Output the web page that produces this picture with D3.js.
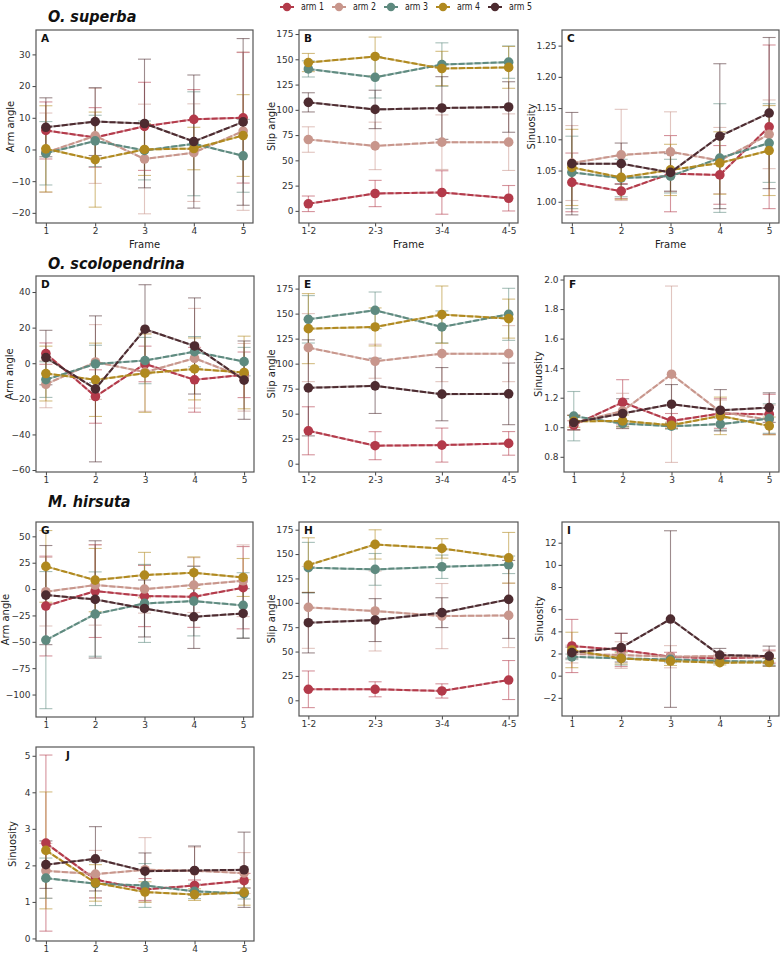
<!DOCTYPE html>
<html><head><meta charset="utf-8">
<script src="https://cdn.jsdelivr.net/npm/d3@7"></script>
<style>
body{margin:0;background:#fff;}
svg{display:block;}
.tick text{font-family:"DejaVu Sans",sans-serif;font-size:9px;fill:#333;}
.tick line{stroke:#444;}
.cond{font-family:"Liberation Sans Narrow","DejaVu Sans Condensed","Arial Narrow",sans-serif;font-stretch:condensed;}
</style></head><body>
<svg id="c" width="783" height="955"></svg>
<script>
const arms = ["arm 1","arm 2","arm 3","arm 4","arm 5"];
const armColors = ["#b33a4a","#c8968c","#5e8a7f","#b0891f","#4d2b30"];
const frames = [1,2,3,4,5];
const pairs = ["1-2","2-3","3-4","4-5"];
const titles = ["O. superba","O. scolopendrina","M. hirsuta"];

// A: O. superba arm angle (mean, sd) rows = arm 1..5
const aMean = [[6.0,3.8,7.3,9.5,10.0],[-1.0,4.3,-3.0,-1.0,5.8],[-1.2,2.7,-0.3,1.8,-2.0],[0.2,-3.2,0.0,0.3,4.4],[7.0,8.8,8.2,2.5,8.7]];
const aSd   = [[9,9.4,13.9,9.4,20.6],[12.5,15,17.3,15.4,25],[10,8.1,9.3,16.4,11.5],[13.6,15,8.2,6.7,12.9],[9.3,10.7,20.3,21,26.3]];
// B: O. superba slip angle
const bMean = [[7.0,17.2,18.2,12.5],[70.6,64.3,68.0,68.0],[140.5,132.2,144.8,147.2],[146.8,152.8,140.9,142.0],[107.4,100.4,101.8,102.8]];
const bSd   = [[7.7,13,21.5,12.6],[12.6,23.5,27,28],[8,20.5,21.5,16],[9,19.2,17,20.7],[9.5,19,31,25]];
// C: O. superba sinuosity
const cMean = [[1.031,1.017,1.045,1.043,1.120],[1.062,1.075,1.080,1.066,1.108],[1.047,1.038,1.041,1.070,1.094],[1.055,1.039,1.051,1.062,1.082],[1.061,1.061,1.047,1.105,1.142]];
const cSd   = [[0.047,0.012,0.061,0.047,0.131],[0.060,0.073,0.064,0.053,0.055],[0.058,0.030,0.027,0.087,0.063],[0.061,0.035,0.041,0.050,0.072],[0.082,0.033,0.030,0.116,0.121]];
// D: O. scolopendrina arm angle
const dMean = [[5.4,-18.7,-0.4,-9.3,-6.5],[-11.8,0.7,-5.0,2.8,-7.9],[-9.2,-0.4,1.5,6.5,0.9],[-5.8,-9.3,-5.6,-3.2,-5.2],[3.2,-14.4,19.1,9.7,-9.5]];
const dSd   = [[6,15,10,18.2,12.8],[13.2,21,22,28,19],[10,10.5,13,8.5,8],[15.4,20.6,22,17.4,20.4],[15.3,41,25,27,22]];
// E: O. scolopendrina slip angle
const eMean = [[32.9,18.0,18.6,20.3],[116,102.4,110,110],[144.3,153.3,136.7,149.3],[135,136.7,149,145],[75.8,77.8,69.5,69.8]];
const eSd   = [[24,14,17,11.8],[34,17,28,28],[23.7,18.3,16,26],[35,19,28.6,19.5],[48,27.6,26.6,30.8]];
// F: O. scolopendrina sinuosity
const fMean = [[1.014,1.169,1.043,1.093,1.088],[1.030,1.110,1.359,1.104,1.050],[1.075,1.025,1.007,1.021,1.059],[1.040,1.043,1.014,1.077,1.009],[1.032,1.093,1.156,1.115,1.133]];
const fSd   = [[0.03,0.153,0.05,0.1,0.135],[0.05,0.12,0.597,0.08,0.1],[0.167,0.02,0.02,0.04,0.1],[0.04,0.04,0.02,0.127,0.06],[0.05,0.1,0.133,0.14,0.1]];
// G: M. hirsuta arm angle
const gMean = [[-16.1,-1.9,-6.6,-7.3,1.3],[-2.5,3.8,0.0,3.8,7.9],[-48.4,-23.7,-13.6,-11.4,-15.5],[21.5,8.5,13.3,15.5,11.0],[-5.7,-9.8,-18.4,-26.3,-23.1]];
const gSd   = [[47.3,44,29,29,39],[32.5,38,22.8,26,34],[65,40,37,33,31],[34,30,21.5,15,18],[47,55.6,27,30,23.5]];
// H: M. hirsuta slip angle
const hMean = [[11.3,11.3,9.6,20.8],[95.3,91.6,86.4,87.1],[136,134.3,137,139],[138.7,159.9,155.8,146.2],[79.6,82.3,89.9,103.5]];
const hSd   = [[18.8,7.7,7.3,20],[42,41,33.4,33],[26,16.3,12,9],[28,15,10,26],[31,22,15.3,40]];
// I: M. hirsuta sinuosity
const iMean = [[2.68,2.32,1.71,1.56,1.71],[1.95,1.86,1.71,1.77,1.71],[1.70,1.56,1.47,1.32,1.26],[2.32,1.56,1.32,1.17,1.20],[2.08,2.53,5.11,1.86,1.77]];
const iSd   = [[2.4,1.5,0.4,0.3,0.6],[0.8,1.2,1.0,0.3,0.5],[0.25,0.6,0.3,0.2,0.3],[1.6,0.5,0.4,0.2,0.35],[0.5,1.3,7.97,0.6,0.9]];
// J: sinuosity
const jMean = [[2.61,1.61,1.34,1.45,1.58],[1.85,1.76,1.88,1.85,1.79],[1.65,1.50,1.45,1.29,1.23],[2.41,1.52,1.27,1.20,1.26],[2.02,2.18,1.84,1.86,1.88]];
const jSd   = [[2.41,0.5,0.3,0.15,0.2],[0.75,0.65,0.88,0.65,0.56],[0.55,0.6,0.6,0.2,0.15],[1.6,0.5,0.28,0.16,0.35],[0.65,0.88,0.5,0.67,1.03]];

const yTicksArm1 = [-20,-10,0,10,20,30];
const yTicksSlip = [0,25,50,75,100,125,150,175];
const yTicksSinC = [1.00,1.05,1.10,1.15,1.20,1.25];
const yTicksArm2 = [-60,-40,-20,0,20,40];
const yTicksSinF = [0.8,1.0,1.2,1.4,1.6,1.8,2.0];
const yTicksArm3 = [-100,-75,-50,-25,0,25,50];
const yTicksSinI = [-2,0,2,4,6,8,10,12];
const yTicksSinJ = [0,1,2,3,4,5];

const svg = d3.select("#c");

const panels = [
 {L:"A",x0:36,x1:253,y0:30,y1:223,yd:[-23.2,37.7],ticks:yTicksArm1,fmt:"d",m:aMean,s:aSd,yl:"Arm angle",ylx:11,xl:true},
 {L:"B",x0:299,x1:518,y0:30,y1:223,yd:[-12,179],ticks:yTicksSlip,fmt:"d",m:bMean,s:bSd,yl:"Slip angle",ylx:272,xl:true,cats:pairs},
 {L:"C",x0:562,x1:779,y0:30,y1:223,yd:[0.966,1.275],ticks:yTicksSinC,fmt:".2f",m:cMean,s:cSd,yl:"Sinuosity",ylx:532,xl:true},
 {L:"D",x0:36,x1:254,y0:276,y1:472,yd:[-61.1,49],ticks:yTicksArm2,fmt:"d",m:dMean,s:dSd,yl:"Arm angle",ylx:10},
 {L:"E",x0:299,x1:518,y0:276,y1:472,yd:[-8.3,187.6],ticks:yTicksSlip,fmt:"d",m:eMean,s:eSd,yl:"Slip angle",ylx:272,cats:pairs},
 {L:"F",x0:564,x1:779,y0:276,y1:472,yd:[0.697,2.024],ticks:yTicksSinF,fmt:".1f",m:fMean,s:fSd,yl:"Sinuosity",ylx:539},
 {L:"G",x0:36,x1:253,y0:522,y1:717,yd:[-121.3,63.6],ticks:yTicksArm3,fmt:"d",m:gMean,s:gSd,yl:"Arm angle",ylx:6},
 {L:"H",x0:299,x1:518,y0:522,y1:716,yd:[-16.1,182.9],ticks:yTicksSlip,fmt:"d",m:hMean,s:hSd,yl:"Slip angle",ylx:272,cats:pairs},
 {L:"I",x0:562,x1:779,y0:522,y1:716,yd:[-3.64,13.87],ticks:yTicksSinI,fmt:"d",m:iMean,s:iSd,yl:"Sinuosity",ylx:540},
 {L:"J",x0:36,x1:254,y0:747,y1:941,yd:[-0.07,5.24],ticks:yTicksSinJ,fmt:"d",m:jMean,s:jSd,yl:"Sinuosity",ylx:13,lx:30}
];

panels.forEach((p,pi)=>{
  const g = svg.append("g");
  const cats = p.cats || frames;
  const x = p.cats ? d3.scalePoint().domain(p.cats).range([p.x0,p.x1]).padding(0.14)
                   : d3.scaleLinear().domain([0.8,5.2]).range([p.x0,p.x1]);
  const y = d3.scaleLinear().domain(p.yd).range([p.y1,p.y0]);
  const xa = d3.axisBottom(x).tickSize(3.5).tickPadding(1.5);
  if(!p.cats) xa.tickValues(frames).tickFormat(d3.format("d"));
  g.append("g").attr("transform",`translate(0,${p.y1})`).call(xa).call(a=>a.select(".domain").remove());
  const ya = d3.axisLeft(y).tickValues(p.ticks).tickSize(3.5).tickPadding(2).tickFormat(d3.format(p.fmt));
  g.append("g").attr("transform",`translate(${p.x0},0)`).call(ya).call(a=>a.select(".domain").remove());

  const cid = "clip"+pi;
  svg.append("clipPath").attr("id",cid).append("rect")
    .attr("x",p.x0).attr("y",p.y0).attr("width",p.x1-p.x0).attr("height",p.y1-p.y0);
  const plot = g.append("g").attr("clip-path",`url(#${cid})`);

  arms.forEach((a,ai)=>{
    const col = armColors[ai];
    const pts = cats.map((c,k)=>({x:x(c),m:p.m[ai][k],s:p.s[ai][k]}));
    const eb = plot.append("g").attr("stroke",col).attr("stroke-opacity",0.55).attr("stroke-width",1.1);
    pts.forEach(d=>{
      eb.append("line").attr("x1",d.x).attr("x2",d.x).attr("y1",y(d.m-d.s)).attr("y2",y(d.m+d.s));
      eb.append("line").attr("x1",d.x-6.5).attr("x2",d.x+6.5).attr("y1",y(d.m-d.s)).attr("y2",y(d.m-d.s));
      eb.append("line").attr("x1",d.x-6.5).attr("x2",d.x+6.5).attr("y1",y(d.m+d.s)).attr("y2",y(d.m+d.s));
    });
  });
  arms.forEach((a,ai)=>{
    const col = armColors[ai];
    const pts = cats.map((c,k)=>({x:x(c),m:p.m[ai][k]}));
    const line = d3.line().x(d=>d.x).y(d=>y(d.m));
    plot.append("path").attr("d",line(pts)).attr("fill","none").attr("stroke",col).attr("stroke-width",2).attr("stroke-opacity",0.5);
    plot.append("path").attr("d",line(pts)).attr("fill","none").attr("stroke",col).attr("stroke-width",2).attr("stroke-dasharray","6,2");
    plot.selectAll(null).data(pts).enter().append("circle")
      .attr("cx",d=>d.x).attr("cy",d=>y(d.m)).attr("r",4.8).attr("fill",col);
  });

  g.append("rect").attr("x",p.x0).attr("y",p.y0).attr("width",p.x1-p.x0).attr("height",p.y1-p.y0)
    .attr("fill","none").attr("stroke","#555").attr("stroke-width",1.2);
  g.append("text").text(p.L).attr("x",p.x0+(p.lx||5)).attr("y",p.y0+12)
    .attr("font-family","DejaVu Sans").attr("font-weight","bold").attr("font-size",10.5).attr("fill","#111");
  g.append("text").text(p.yl).attr("transform",`translate(${p.ylx},${(p.y0+p.y1)/2}) rotate(-90)`)
    .attr("text-anchor","middle").attr("dominant-baseline","middle")
    .attr("font-family","DejaVu Sans").attr("font-size",10).attr("fill","#222");
  if(p.xl){
    g.append("text").text("Frame").attr("x",(p.x0+p.x1)/2).attr("y",p.y1+22)
      .attr("text-anchor","middle").attr("dominant-baseline","middle")
      .attr("font-family","DejaVu Sans").attr("font-size",10).attr("fill","#222");
  }
});

// titles
const titleY = [22,269,507];
titles.forEach((t,i)=>{
  svg.append("text").attr("class","cond").text(t).attr("x",48).attr("y",titleY[i])
    .attr("font-weight","bold").attr("font-style","italic").attr("font-size",16).attr("fill","#111");
});

// legend
const lg = svg.append("g");
arms.forEach((a,i)=>{
  const lx = 287 + i*52;
  lg.append("line").attr("x1",lx-7).attr("x2",lx+7).attr("y1",7).attr("y2",7).attr("stroke",armColors[i]).attr("stroke-width",2);
  lg.append("circle").attr("cx",lx).attr("cy",7).attr("r",4.2).attr("fill",armColors[i]);
  lg.append("text").attr("class","cond").text(a).attr("x",lx+14).attr("y",7).attr("dominant-baseline","middle")
    .attr("font-size",10).attr("textLength",23).attr("lengthAdjust","spacingAndGlyphs").attr("fill","#222");
});
</script></body></html>
